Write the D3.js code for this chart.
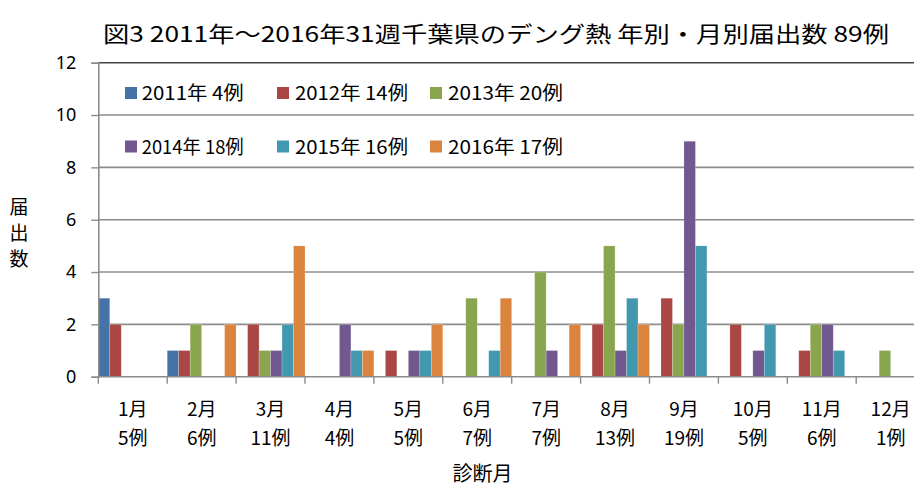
<!DOCTYPE html>
<html>
<head>
<meta charset="utf-8">
<script src="https://cdn.jsdelivr.net/npm/d3@7"></script>
<style>
  body { margin: 0; background: #fff; }
  svg { display: block; font-family: "Noto Sans CJK JP", "Noto Sans", sans-serif; }
</style>
</head>
<body>
<div id="chart"></div>
<script>
// data
var months = ["1月", "2月", "3月", "4月", "5月", "6月", "7月", "8月", "9月", "10月", "11月", "12月"]
var monthCounts = ["5例", "6例", "11例", "4例", "5例", "7例", "7例", "13例", "19例", "5例", "6例", "1例"]
var years = ["2011年", "2012年", "2013年", "2014年", "2015年", "2016年"]
var yearCounts = ["4例", "14例", "20例", "18例", "16例", "17例"]
var v2011 = [3, 1, 0, 0, 0, 0, 0, 0, 0, 0, 0, 0]
var v2012 = [2, 1, 2, 0, 1, 0, 0, 2, 3, 2, 1, 0]
var v2013 = [0, 2, 1, 0, 0, 3, 4, 5, 2, 0, 2, 1]
var v2014 = [0, 0, 1, 2, 1, 0, 1, 1, 9, 1, 2, 0]
var v2015 = [0, 0, 2, 1, 1, 1, 0, 3, 5, 2, 1, 0]
var v2016 = [0, 2, 5, 1, 2, 3, 2, 2, 0, 0, 0, 0]
var yTicks = [0, 2, 4, 6, 8, 10, 12]

var seriesValues = [v2011, v2012, v2013, v2014, v2015, v2016]
var colors = ['#4572A7', '#AA4643', '#89A54E', '#71588F', '#4198AF', '#DB843D']

var width = 914, height = 487
var plotLeft = 98.3, bandW = 68.9, plotTop = 62.7, plotBottom = 376.7

var svg = d3.select("#chart")
  .append("svg")
  .attr("width", width)
  .attr("height", height)

// title
svg.append("text")
  .attr("x", 103)
  .attr("y", 42)
  .attr("textLength", 786)
  .attr("lengthAdjust", "spacingAndGlyphs")
  .style("font-size", "22px")
  .style("fill", "#000")
  .text("図3 2011年～2016年31週千葉県のデング熱 年別・月別届出数 89例")

var xScale = d3.scaleBand()
  .domain(months)
  .range([plotLeft, plotLeft + bandW * months.length])
  .padding(0)

var xInner = d3.scaleBand()
  .domain(years)
  .range([0, xScale.bandwidth()])
  .padding(0)

var yScale = d3.scaleLinear()
  .domain([0, 12])
  .range([plotBottom, plotTop])

// Y grid
svg.append("g")
  .attr("class", "grid")
  .selectAll("line")
  .data(yTicks.filter(d => d > 0))
  .enter()
  .append("line")
  .attr("x1", plotLeft)
  .attr("x2", width)
  .attr("y1", d => yScale(d))
  .attr("y2", d => yScale(d))
  .style("stroke", d => d == 12 ? '#444' : '#8c8c8c')
  .style("stroke-width", 1.6)

// bars
var groups = svg.append("g")
  .attr("class", "bars")
  .selectAll("g")
  .data(years)
  .enter()
  .append("g")
  .style("fill", (d, i) => colors[i])

groups.selectAll("rect")
  .data((d, i) => seriesValues[i].map((v, j) => ({ year: d, month: months[j], value: v })))
  .enter()
  .append("rect")
  .filter(d => d.value > 0)
  .attr("x", d => xScale(d.month) + xInner(d.year))
  .attr("width", xInner.bandwidth())
  .attr("y", d => yScale(d.value))
  .attr("height", d => yScale(0) - yScale(d.value))
  .style("stroke", "rgba(255,255,255,0.35)")
  .style("stroke-width", 0.6)

// Y axis
var yAxis = d3.axisLeft(yScale)
  .tickValues(yTicks)
  .tickSize(7)
  .tickPadding(15)
  .tickFormat(d3.format("d"))

svg.append("g")
  .attr("transform", `translate(${plotLeft},0)`)
  .attr("class", "y-axis")
  .call(yAxis)
  .call(g => g.select(".domain").style("stroke", "#8c8c8c").style("stroke-width", 1.6))
  .call(g => g.selectAll(".tick line").style("stroke", "#8c8c8c").style("stroke-width", 1.4))
  .selectAll("text")
  .style("font-size", "18px")
  .style("fill", "#000")
  .style("font-family", "'Noto Sans', sans-serif")

// X axis line and ticks
var xg = svg.append("g").attr("class", "x-axis")
xg.append("line")
  .attr("x1", plotLeft)
  .attr("x2", width)
  .attr("y1", plotBottom)
  .attr("y2", plotBottom)
  .style("stroke", "#8c8c8c")
  .style("stroke-width", 1.6)

xg.selectAll(".xtick")
  .data(months)
  .enter()
  .append("line")
  .attr("class", "xtick")
  .attr("x1", d => xScale(d))
  .attr("x2", d => xScale(d))
  .attr("y1", plotBottom)
  .attr("y2", plotBottom + 7)
  .style("stroke", "#8c8c8c")
  .style("stroke-width", 1.4)

xg.selectAll(".xlab1")
  .data(months)
  .enter()
  .append("text")
  .attr("class", "xlab1")
  .attr("x", d => xScale(d) + xScale.bandwidth() / 2)
  .attr("y", 416)
  .attr("text-anchor", "middle")
  .style("font-size", "19px")
  .text(d => d)

xg.selectAll(".xlab2")
  .data(monthCounts)
  .enter()
  .append("text")
  .attr("class", "xlab2")
  .attr("x", (d, i) => xScale(months[i]) + xScale.bandwidth() / 2)
  .attr("y", 445)
  .attr("text-anchor", "middle")
  .style("font-size", "19px")
  .text(d => d)

// axis titles
svg.append("text")
  .attr("x", 482.5)
  .attr("y", 481)
  .attr("text-anchor", "middle")
  .style("font-size", "20px")
  .text("診断月")

svg.append("g")
  .selectAll("text")
  .data(["届", "出", "数"])
  .enter()
  .append("text")
  .attr("x", 19)
  .attr("y", (d, i) => 214 + i * 26)
  .attr("text-anchor", "middle")
  .style("font-size", "19px")
  .text(d => d)

// legend
var legendX = [125, 277, 430]
var legendTextX = [141.7, 295, 448]
var legendTextW = [102, 113, 115]
var legendRowY = [93, 146.5]

var legend = svg.append("g").attr("class", "legend")
  .selectAll("g")
  .data(years)
  .enter()
  .append("g")
  .attr("transform", (d, i) => `translate(0,${legendRowY[Math.floor(i / 3)]})`)

legend.append("rect")
  .attr("x", (d, i) => legendX[i % 3])
  .attr("y", -6)
  .attr("width", 12)
  .attr("height", 12)
  .style("fill", (d, i) => colors[i])

legend.append("text")
  .attr("x", (d, i) => legendTextX[i % 3])
  .attr("y", 3.5)
  .attr("dy", "0.2em")
  .attr("textLength", (d, i) => legendTextW[i % 3])
  .attr("lengthAdjust", "spacingAndGlyphs")
  .style("font-size", "19px")
  .text((d, i) => d + " " + yearCounts[i])
</script>
</body>
</html>
